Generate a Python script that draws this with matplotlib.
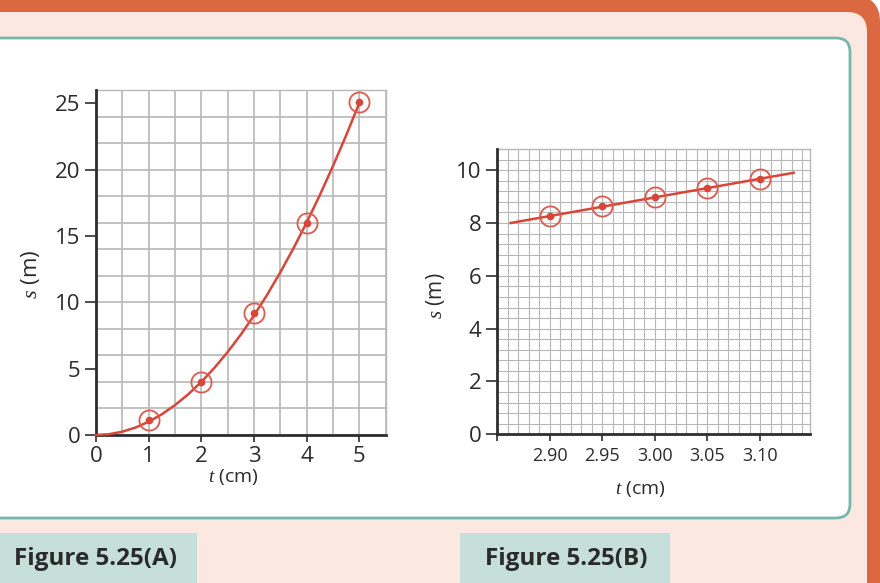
import matplotlib
matplotlib.use("Agg")
import matplotlib.pyplot as plt
from matplotlib.patches import FancyBboxPatch, Rectangle
from matplotlib.ticker import FixedLocator, MultipleLocator

plt.rcParams["font.family"] = ["Open Sans", "DejaVu Sans"]
plt.rcParams["mathtext.fontset"] = "custom"
plt.rcParams["mathtext.it"] = "Liberation Serif:italic"
plt.rcParams["mathtext.rm"] = "Open Sans"

# ── data ─────────────────────────────────────────────────────────────────────
# Figure 5.25(A): measured points and the smooth curve through them
pts_a_t = [1, 2, 3, 4, 5]
pts_a_s = [1.1, 4.0, 9.2, 16.0, 25.1]
curve_a_t = [0, 0.25, 0.5, 0.75, 1.0, 1.25, 1.5, 1.75, 2.0, 2.25, 2.5,
             2.75, 3.0, 3.25, 3.5, 3.75, 4.0, 4.25, 4.5, 4.75, 5.0]
curve_a_s = [0, 0.06, 0.25, 0.56, 1.0, 1.56, 2.25, 3.06, 4.0, 5.06, 6.25,
             7.56, 9.0, 10.56, 12.25, 14.06, 16.0, 18.06, 20.25, 22.56, 25.0]

# Figure 5.25(B): zoomed-in points near t = 3 and the straight line
pts_b_t = [2.90, 2.95, 3.00, 3.05, 3.10]
pts_b_s = [8.28, 8.65, 9.00, 9.34, 9.66]
line_b_t = [2.863, 3.132]
line_b_s = [8.0, 9.9]

xticks_a = [0, 1, 2, 3, 4, 5]
yticks_a = [0, 5, 10, 15, 20, 25]
xticks_b = [2.85, 2.90, 2.95, 3.00, 3.05, 3.10]
xlabels_b = ["", "2.90", "2.95", "3.00", "3.05", "3.10"]
yticks_b = [0, 2, 4, 6, 8, 10]

captions = ["Figure 5.25(A)", "Figure 5.25(B)"]

# ── colours ──────────────────────────────────────────────────────────────────
ORANGE = "#DA6840"
PEACH = "#FBE9E1"
TEAL = "#72B8AB"
CAPBOX = "#C6DFDB"
AXIS = "#2E2E2E"
GRID = "#B8B8B8"
RED = "#D8463A"
RED_LIGHT = "#DD5A4E"
TEXT = "#2B2B2B"

fig = plt.figure(figsize=(8.8, 5.83), dpi=100, facecolor="white")

# ── background frame (pixel coordinates) ─────────────────────────────────────
bg = fig.add_axes([0, 0, 1, 1], zorder=-5)
bg.set_xlim(0, 880)
bg.set_ylim(583, 0)
bg.axis("off")
bg.add_patch(FancyBboxPatch((-60, -4), 940, 660, boxstyle="round,pad=0,rounding_size=26",
                            facecolor=ORANGE, edgecolor="none"))
bg.add_patch(FancyBboxPatch((-60, 12), 927, 660, boxstyle="round,pad=0,rounding_size=20",
                            facecolor=PEACH, edgecolor="none"))
bg.add_patch(FancyBboxPatch((-30, 38), 880, 480, boxstyle="round,pad=0,rounding_size=14",
                            facecolor="white", edgecolor=TEAL, linewidth=2))
bg.add_patch(Rectangle((0, 533), 197, 60, facecolor=CAPBOX, edgecolor="none"))
bg.add_patch(Rectangle((460, 533), 210, 60, facecolor=CAPBOX, edgecolor="none"))
bg.text(95, 559, captions[0], ha="center", va="center", fontsize=17.5,
        fontweight="bold", color=TEXT)
bg.text(566, 559, captions[1], ha="center", va="center", fontsize=17.5,
        fontweight="bold", color=TEXT)


def style_axes(ax):
    for side in ("left", "bottom"):
        ax.spines[side].set_color(AXIS)
        ax.spines[side].set_linewidth(2)
        ax.spines[side].set_zorder(4)
    for side in ("top", "right"):
        ax.spines[side].set_color(GRID)
        ax.spines[side].set_linewidth(1)
    ax.xaxis.remove_overlapping_locs = False
    ax.yaxis.remove_overlapping_locs = False
    ax.tick_params(which="minor", length=0)
    ax.tick_params(axis="y", which="major", length=8, width=1.2, colors=AXIS, pad=3)
    ax.tick_params(axis="x", which="major", length=5, width=1.2, colors=AXIS, pad=3)
    ax.set_axisbelow(True)


def draw_points(ax, t, s):
    ax.plot(t, s, "o", ms=14.5, mfc="none", mec=RED_LIGHT, mew=1.3, zorder=5,
            clip_on=False)
    ax.plot(t, s, "o", ms=4.5, color=RED, zorder=6, clip_on=False)


# ── Figure 5.25(A) ───────────────────────────────────────────────────────────
ax_a = fig.add_axes([96 / 880, (583 - 435) / 583, 289.5 / 880, 345 / 583])
ax_a.set_xlim(0, 5.5)
ax_a.set_ylim(0, 26)
style_axes(ax_a)
ax_a.xaxis.set_minor_locator(MultipleLocator(0.5))
ax_a.yaxis.set_minor_locator(MultipleLocator(2))
ax_a.grid(which="minor", color=GRID, linewidth=1.2)
ax_a.set_xticks(xticks_a)
ax_a.set_yticks(yticks_a)
ax_a.tick_params(labelsize=16, labelcolor=TEXT)
ax_a.plot(curve_a_t, curve_a_s, color=RED, linewidth=1.8, zorder=5, clip_on=False)
draw_points(ax_a, pts_a_t, pts_a_s)
ax_a.set_xlabel("$t$ (cm)", fontsize=14, color=TEXT)
ax_a.xaxis.set_label_coords(0.473, -0.092)
ax_a.set_ylabel("$s$ (m)", fontsize=16, color=TEXT)
ax_a.yaxis.set_label_coords(-0.185, 0.467)

# ── Figure 5.25(B) ───────────────────────────────────────────────────────────
ax_b = fig.add_axes([497 / 880, (583 - 434.3) / 583, 313 / 880, 285.3 / 583])
ax_b.set_xlim(2.85, 3.1475)
ax_b.set_ylim(0, 10.8)
style_axes(ax_b)
ax_b.xaxis.set_minor_locator(MultipleLocator(0.01))
ax_b.yaxis.set_minor_locator(MultipleLocator(0.4))
ax_b.grid(which="minor", color=GRID, linewidth=0.8)
ax_b.xaxis.set_major_locator(FixedLocator(xticks_b))
ax_b.set_xticklabels(xlabels_b)
ax_b.set_yticks(yticks_b)
ax_b.tick_params(axis="y", labelsize=16, labelcolor=TEXT)
ax_b.tick_params(axis="x", labelsize=13, labelcolor=TEXT, pad=4)
ax_b.plot(line_b_t, line_b_s, color=RED, linewidth=1.8, zorder=5)
draw_points(ax_b, pts_b_t, pts_b_s)
ax_b.set_xlabel("$t$ (cm)", fontsize=14, color=TEXT)
ax_b.xaxis.set_label_coords(0.457, -0.155)
ax_b.set_ylabel("$s$ (m)", fontsize=15, color=TEXT)
ax_b.yaxis.set_label_coords(-0.16, 0.485)

fig.savefig("out.png", dpi=100, facecolor="white")
